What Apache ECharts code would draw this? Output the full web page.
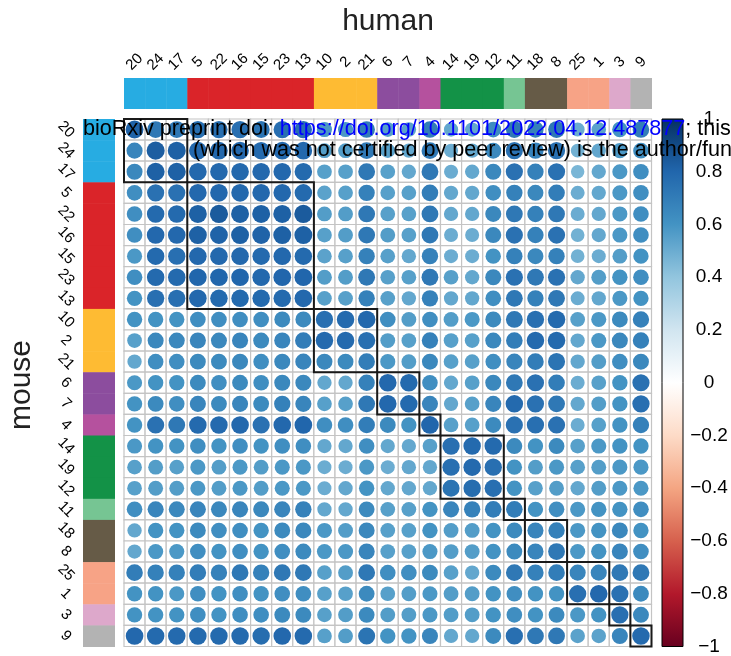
<!DOCTYPE html>
<html><head><meta charset="utf-8">
<script src="https://cdn.jsdelivr.net/npm/echarts@6/dist/echarts.min.js"></script>
<style>html,body{margin:0;padding:0;background:#fff}#c{width:731px;height:656px}</style>
</head><body><div id="c"></div>
<script>
const labels = ['20','24','17','5','22','16','15','23','13','10','2','21','6','7','4','14','19','12','11','18','8','25','1','3','9'];
const groupColors = ['#27ACE2','#DA2429','#FEBB33','#8C4D9E','#B5519E','#139247','#76C593','#665B47','#F7A386','#DDA8CB','#B3B3B3'];
const groupSizes = [3,6,3,2,1,3,1,2,2,1,1];
const colorbarStops = ['#67001F','#B2182B','#D6604D','#F4A582','#FDDBC7','#FFFFFF','#D1E5F0','#92C5DE','#4393C3','#2166AC','#053061'];
// rows = mouse clusters, columns = human clusters (same label order)
const corr = [
 [0.81,0.72,0.72,0.76,0.76,0.76,0.74,0.76,0.76,0.58,0.58,0.70,0.55,0.54,0.70,0.52,0.52,0.63,0.72,0.68,0.72,0.50,0.54,0.60,0.70],
 [0.66,0.83,0.82,0.79,0.79,0.79,0.78,0.79,0.79,0.56,0.56,0.72,0.55,0.52,0.72,0.50,0.52,0.65,0.75,0.68,0.75,0.48,0.52,0.58,0.62],
 [0.65,0.82,0.82,0.79,0.79,0.79,0.79,0.79,0.78,0.55,0.55,0.72,0.55,0.52,0.72,0.50,0.52,0.65,0.75,0.68,0.75,0.46,0.52,0.58,0.62],
 [0.62,0.75,0.75,0.79,0.79,0.79,0.79,0.79,0.78,0.54,0.55,0.68,0.55,0.55,0.70,0.52,0.52,0.62,0.68,0.65,0.70,0.50,0.52,0.58,0.62],
 [0.62,0.78,0.78,0.82,0.84,0.82,0.82,0.82,0.84,0.56,0.56,0.72,0.55,0.55,0.72,0.52,0.52,0.65,0.72,0.68,0.72,0.50,0.52,0.58,0.62],
 [0.62,0.79,0.79,0.82,0.81,0.82,0.81,0.82,0.82,0.55,0.56,0.72,0.56,0.55,0.72,0.50,0.50,0.65,0.75,0.68,0.75,0.48,0.52,0.58,0.62],
 [0.58,0.78,0.76,0.79,0.79,0.79,0.78,0.79,0.78,0.54,0.55,0.68,0.55,0.52,0.68,0.50,0.50,0.60,0.68,0.65,0.68,0.48,0.50,0.56,0.60],
 [0.62,0.78,0.78,0.80,0.80,0.80,0.79,0.80,0.80,0.56,0.56,0.72,0.55,0.55,0.72,0.55,0.52,0.65,0.75,0.72,0.75,0.52,0.56,0.60,0.62],
 [0.60,0.76,0.76,0.79,0.78,0.78,0.78,0.78,0.79,0.55,0.55,0.68,0.55,0.52,0.68,0.52,0.52,0.62,0.72,0.68,0.72,0.50,0.52,0.58,0.60],
 [0.60,0.60,0.60,0.62,0.62,0.62,0.62,0.64,0.64,0.76,0.78,0.79,0.62,0.56,0.62,0.56,0.58,0.64,0.72,0.76,0.78,0.55,0.58,0.64,0.68],
 [0.55,0.65,0.65,0.66,0.65,0.66,0.64,0.66,0.70,0.78,0.78,0.76,0.56,0.55,0.68,0.55,0.55,0.65,0.70,0.78,0.78,0.52,0.58,0.65,0.68],
 [0.52,0.62,0.62,0.64,0.64,0.65,0.62,0.65,0.66,0.65,0.64,0.70,0.58,0.56,0.65,0.55,0.55,0.62,0.66,0.70,0.74,0.52,0.56,0.62,0.65],
 [0.58,0.60,0.60,0.64,0.62,0.64,0.62,0.65,0.65,0.52,0.52,0.68,0.79,0.78,0.62,0.52,0.55,0.65,0.72,0.75,0.70,0.50,0.55,0.60,0.75],
 [0.60,0.64,0.62,0.66,0.64,0.66,0.64,0.68,0.66,0.55,0.55,0.72,0.79,0.78,0.66,0.52,0.55,0.66,0.78,0.75,0.72,0.52,0.56,0.60,0.76],
 [0.60,0.75,0.72,0.78,0.78,0.79,0.75,0.79,0.80,0.62,0.62,0.70,0.64,0.60,0.80,0.55,0.55,0.64,0.75,0.76,0.75,0.50,0.55,0.60,0.68],
 [0.58,0.60,0.60,0.62,0.60,0.62,0.60,0.62,0.62,0.52,0.52,0.62,0.52,0.52,0.55,0.76,0.78,0.78,0.64,0.60,0.64,0.55,0.58,0.60,0.60],
 [0.55,0.56,0.55,0.58,0.56,0.58,0.56,0.58,0.58,0.50,0.50,0.58,0.50,0.52,0.52,0.76,0.78,0.76,0.60,0.56,0.58,0.55,0.56,0.58,0.58],
 [0.55,0.56,0.56,0.58,0.56,0.58,0.56,0.58,0.58,0.50,0.52,0.60,0.52,0.52,0.52,0.74,0.77,0.76,0.60,0.55,0.56,0.52,0.56,0.58,0.58],
 [0.62,0.66,0.65,0.66,0.65,0.66,0.65,0.66,0.68,0.52,0.52,0.64,0.55,0.55,0.60,0.66,0.68,0.70,0.70,0.60,0.62,0.58,0.60,0.60,0.62],
 [0.52,0.60,0.60,0.64,0.62,0.62,0.60,0.64,0.65,0.58,0.56,0.65,0.55,0.55,0.60,0.56,0.56,0.60,0.64,0.66,0.68,0.58,0.60,0.65,0.60],
 [0.52,0.58,0.58,0.62,0.60,0.62,0.60,0.62,0.64,0.58,0.58,0.66,0.55,0.55,0.58,0.56,0.56,0.60,0.64,0.66,0.72,0.58,0.60,0.66,0.62],
 [0.70,0.68,0.68,0.70,0.68,0.72,0.68,0.72,0.72,0.55,0.56,0.72,0.62,0.62,0.64,0.55,0.52,0.64,0.72,0.68,0.70,0.66,0.66,0.72,0.72],
 [0.60,0.60,0.58,0.62,0.60,0.62,0.60,0.62,0.62,0.55,0.55,0.64,0.55,0.56,0.58,0.56,0.56,0.60,0.62,0.60,0.60,0.76,0.79,0.75,0.64],
 [0.60,0.60,0.60,0.62,0.60,0.62,0.62,0.64,0.64,0.55,0.56,0.64,0.56,0.56,0.58,0.56,0.56,0.60,0.62,0.60,0.64,0.58,0.60,0.76,0.65],
 [0.79,0.78,0.78,0.78,0.78,0.78,0.77,0.79,0.78,0.55,0.56,0.74,0.60,0.60,0.66,0.52,0.52,0.64,0.76,0.72,0.72,0.54,0.54,0.66,0.78]
];

const FF = '"Liberation Sans", Arial, Helvetica, sans-serif';

function hex2rgb(h){return [parseInt(h.slice(1,3),16),parseInt(h.slice(3,5),16),parseInt(h.slice(5,7),16)];}
function colorFor(v){
  const n = colorbarStops.length - 1;
  const t = (v + 1) / 2 * n;
  const i = Math.max(0, Math.min(n - 1, Math.floor(t)));
  const f = t - i;
  const a = hex2rgb(colorbarStops[i]), b = hex2rgb(colorbarStops[i + 1]);
  return 'rgb(' + a.map((x, k) => Math.round(x + (b[k] - x) * f)).join(',') + ')';
}

// group index per label + cluster boxes
const groupIdx = [];
const boxes = [];
let pos = 0;
groupSizes.forEach((s, g) => { for (let k = 0; k < s; k++) groupIdx.push(g); boxes.push([pos, pos + s - 1]); pos += s; });

const cellData = [];
corr.forEach((row, i) => row.forEach((v, j) => cellData.push([j, i, v])));
const topBarData = labels.map((_, j) => [j, 0, groupIdx[j]]);
const leftBarData = labels.map((_, i) => [0, i, groupIdx[i]]);

const chart = echarts.init(document.getElementById('c'), null, {renderer: 'canvas'});
const gridBase = {containLabel: false, outerBoundsMode: 'none'};
chart.setOption({
  animation: false,
  backgroundColor: '#fff',
  grid: [
    Object.assign({left: 124, top: 119, width: 527.5, height: 527.5}, gridBase),
    Object.assign({left: 124, top: 78, width: 527.5, height: 31}, gridBase),
    Object.assign({left: 83, top: 119, width: 32, height: 527.5}, gridBase),
    Object.assign({left: 662, top: 119, width: 21, height: 527.5}, gridBase)
  ],
  xAxis: [
    {gridIndex: 0, type: 'category', data: labels, show: false},
    {gridIndex: 1, type: 'category', data: labels, position: 'top',
     axisLine: {show: false}, axisTick: {show: false}, splitLine: {show: false},
     axisLabel: {interval: 0, rotate: -45, margin: 16, align: 'center', verticalAlign: 'middle',
                 fontSize: 15, color: '#000', fontFamily: FF, hideOverlap: false}},
    {gridIndex: 2, type: 'category', data: ['g'], show: false},
    {gridIndex: 3, type: 'value', min: 0, max: 1, show: false}
  ],
  yAxis: [
    {gridIndex: 0, type: 'category', data: labels, inverse: true, show: false},
    {gridIndex: 1, type: 'category', data: ['g'], show: false},
    {gridIndex: 2, type: 'category', data: labels, inverse: true,
     axisLine: {show: false}, axisTick: {show: false}, splitLine: {show: false},
     axisLabel: {interval: 0, rotate: -45, margin: 17, align: 'center', verticalAlign: 'middle',
                 fontSize: 15, color: '#000', fontFamily: FF, hideOverlap: false}},
    {gridIndex: 3, type: 'value', min: -1, max: 1, interval: 0.2, position: 'right',
     axisLine: {show: false}, splitLine: {show: false},
     axisTick: {show: true, length: 5, lineStyle: {color: '#000', width: 1}},
     axisLabel: {margin: 26, align: 'center', fontSize: 19, color: '#000', fontFamily: FF,
       formatter: v => { const r = Math.round(v * 10) / 10; return r < 0 ? '\u2212' + Math.abs(r) : String(Math.abs(r)); }}}
  ],
  series: [
    {type: 'custom', xAxisIndex: 0, yAxisIndex: 0, data: cellData, z: 2,
     renderItem: (params, api) => {
       const c = api.coord([api.value(0), api.value(1)]);
       const s = api.size([1, 1]);
       const v = api.value(2);
       return {type: 'group', children: [
         {type: 'rect', shape: {x: c[0] - s[0] / 2, y: c[1] - s[1] / 2, width: s[0], height: s[1]},
          style: {fill: '#fff', stroke: '#C4C4C4', lineWidth: 1.2}},
         {type: 'circle', shape: {cx: c[0], cy: c[1], r: 0.47 * Math.sqrt(Math.abs(v)) * s[0]},
          style: {fill: colorFor(v)}}
       ]};
     }},
    {type: 'custom', xAxisIndex: 0, yAxisIndex: 0, data: boxes, z: 5,
     renderItem: (params, api) => {
       const a = api.value(0), b = api.value(1);
       const s = api.size([1, 1]);
       const p0 = api.coord([a, a]), p1 = api.coord([b, b]);
       return {type: 'rect', shape: {x: p0[0] - s[0] / 2, y: p0[1] - s[1] / 2,
                width: p1[0] - p0[0] + s[0], height: p1[1] - p0[1] + s[1]},
               style: {fill: 'none', stroke: '#1A1A1A', lineWidth: 2}};
     }},
    {type: 'custom', xAxisIndex: 1, yAxisIndex: 1, data: topBarData,
     renderItem: (params, api) => {
       const c = api.coord([api.value(0), api.value(1)]);
       const s = api.size([1, 1]);
       return {type: 'rect', shape: {x: c[0] - s[0] / 2, y: c[1] - s[1] / 2, width: s[0] + 0.5, height: s[1]},
               style: {fill: groupColors[api.value(2)]}};
     }},
    {type: 'custom', xAxisIndex: 2, yAxisIndex: 2, data: leftBarData,
     renderItem: (params, api) => {
       const c = api.coord([api.value(0), api.value(1)]);
       const s = api.size([1, 1]);
       return {type: 'rect', shape: {x: c[0] - s[0] / 2, y: c[1] - s[1] / 2, width: s[0], height: s[1] + 0.5},
               style: {fill: groupColors[api.value(2)]}};
     }},
    {type: 'custom', xAxisIndex: 3, yAxisIndex: 3, data: [[0, -1, 1]],
     renderItem: (params, api) => {
       const p0 = api.coord([0, 1]), p1 = api.coord([1, -1]);
       const stops = colorbarStops.map((col, k) => ({offset: k / (colorbarStops.length - 1), color: col}));
       return {type: 'rect', shape: {x: p0[0], y: p0[1], width: p1[0] - p0[0], height: p1[1] - p0[1]},
               style: {fill: new echarts.graphic.LinearGradient(0, 1, 0, 0, stops), stroke: '#000', lineWidth: 1}};
     }}
  ],
  graphic: [
    {type: 'text', x: 388, y: 22, z: 50, style: {text: 'human', fontSize: 30, fontFamily: FF, fill: '#222', align: 'center', verticalAlign: 'middle'}},
    {type: 'text', x: 22, y: 385, rotation: Math.PI / 2, z: 50, style: {text: 'mouse', fontSize: 30, fontFamily: FF, fill: '#222', align: 'center', verticalAlign: 'middle'}},
    {type: 'text', x: 83, y: 129, z: 100, style: {
      text: '{a|bioRxiv preprint doi: }{b|https://doi.org/10.1101/2022.04.12.487877}{a|; this}',
      fontSize: 21.6, fontFamily: FF, verticalAlign: 'middle', align: 'left',
      rich: {a: {fill: '#000', fontSize: 21.6, fontFamily: FF}, b: {fill: '#0000FF', fontSize: 21.6, fontFamily: FF}}}},
    {type: 'text', x: 193, y: 150, z: 100, style: {
      text: '(which was not certified by peer review) is the author/funder',
      fontSize: 21.6, fontFamily: FF, fill: '#000', verticalAlign: 'middle', align: 'left'}}
  ]
});
</script></body></html>
